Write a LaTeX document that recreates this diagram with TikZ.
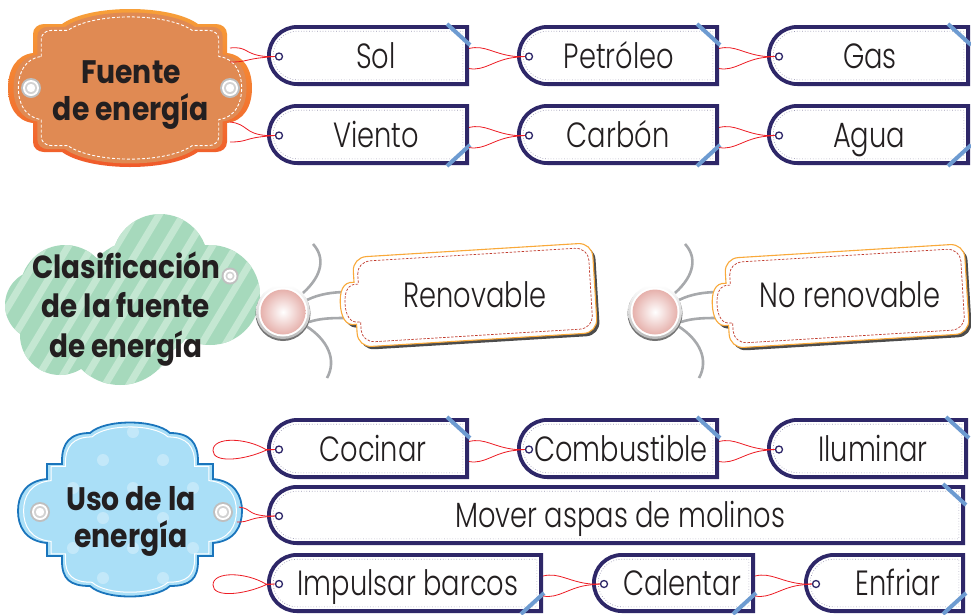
\documentclass[tikz,border=0pt]{standalone}
\usepackage{fontspec}
\newfontfamily\lblfont{Poppins Light}[FakeStretch=0.78]
\newfontfamily\bldfont{Poppins Bold}[FakeStretch=0.87]
\usetikzlibrary{shapes.misc,calc}
\definecolor{navy}{HTML}{2E2768}
\definecolor{stripeblue}{HTML}{6D9BD1}
\definecolor{strred}{HTML}{ED1C24}
\definecolor{innergray}{HTML}{9D9BB5}
\definecolor{txt}{HTML}{231F20}
\definecolor{orR}{HTML}{F0582A}
\definecolor{orY}{HTML}{F7A23A}
\definecolor{orFill}{HTML}{E08A53}
\definecolor{cloudgreen}{HTML}{A6D9BC}
\definecolor{cloudstripe}{HTML}{C4E7D2}
\definecolor{usofill}{HTML}{AADFF7}
\definecolor{usoline}{HTML}{1A75BC}
\definecolor{graystr}{HTML}{A7A9AC}
\definecolor{pinkc}{HTML}{E6B1AC}
\definecolor{tagorange}{HTML}{F9A93A}
\definecolor{tagred}{HTML}{C0392B}
\newcommand\fuentepath{(-97,-35) -- (-97,-54) .. controls (-97,-60) and (-92,-64) .. (-86,-64) -- (-68,-64) .. controls (-40,-84) and (40,-84) .. (68,-64) -- (86,-64) .. controls (92,-64) and (97,-60) .. (97,-54) -- (97,-35) .. controls (114,-33) and (122,-18) .. (122,0) .. controls (122,18) and (114,33) .. (97,35) -- (97,54) .. controls (97,60) and (92,64) .. (86,64) -- (68,64) .. controls (40,84) and (-40,84) .. (-68,64) -- (-86,64) .. controls (-92,64) and (-97,60) .. (-97,54) -- (-97,35) .. controls (-114,33) and (-122,18) .. (-122,0) .. controls (-122,-18) and (-114,-33) .. (-97,-35) -- cycle}
\newcommand\usopath{(-40,-78) .. controls (-25,-92) and (25,-92) .. (40,-78) .. controls (60,-78) and (68,-68) .. (68,-50) -- (68,-47) -- (83,-47) -- (83,-32) .. controls (105,-30) and (112,-15) .. (112,0) .. controls (112,15) and (105,30) .. (83,32) -- (83,45) -- (68,45) -- (68,50) .. controls (68,68) and (60,75) .. (40,75) .. controls (25,89) and (-25,89) .. (-40,75) .. controls (-60,75) and (-68,68) .. (-68,50) -- (-68,45) -- (-83,45) -- (-83,32) .. controls (-105,30) and (-112,15) .. (-112,0) .. controls (-112,-15) and (-105,-30) .. (-83,-32) -- (-83,-47) -- (-68,-47) -- (-68,-50) .. controls (-68,-68) and (-60,-78) .. (-40,-78) -- cycle}
\newcommand\midpath{(-120,-31) .. controls (-120,-39) and (-114,-45) .. (-106,-45) -- (106,-45) .. controls (114,-45) and (120,-39) .. (120,-31) -- (120,31) .. controls (120,39) and (114,45) .. (106,45) -- (-106,45) .. controls (-114,45) and (-120,39) .. (-120,31) -- (-120,22) .. controls (-132,24) and (-135,12) .. (-135,1) .. controls (-135,-10) and (-132,-22) .. (-120,-20) -- cycle}
\newcommand\tagbox[8]{%
  \pgfmathsetmacro\tgW{#3-#2-3.8}%
  \pgfmathsetmacro\tgH{#5-#4-3.8}%
  \pgfmathsetmacro\tgX{(#2+#3)/2}%
  \pgfmathsetmacro\tgY{(#4+#5)/2}%
  \pgfmathsetmacro\tgIW{\tgW-8.5}%
  \pgfmathsetmacro\tgIH{\tgH-8.5}%
  \pgfmathsetmacro\tgS{\tgY-(#6)*((#5-#4)/2+1)}%
  \pgfmathsetmacro\tgSE{\tgS+(#6)*21}%
  \pgfmathsetmacro\tgRa{#3-22}%
  \pgfmathsetmacro\tgRb{#3+1}%
  \pgfmathsetmacro\tgHx{#2+12}%
  \pgfmathsetmacro\tgHy{\tgY+1}%
  \pgfmathsetmacro\tgTy{\tgY+12.5}%
  \node[tagout, minimum width=\tgW, minimum height=\tgH] (#1) at (\tgX,\tgY) {};
  \node[tagin, minimum width=\tgIW, minimum height=\tgIH] (#1-in) at (\tgX,\tgY) {};
  \draw[stripe] (\tgRa,\tgS) -- (\tgRb,\tgSE);
  \node[hole] (#1-h) at (\tgHx,\tgHy) {};
  \node[lbl] (#1-t) at (#7,\tgTy) {#8};
}
\newcommand\rstr[2]{%
  \draw[redstr] ($(#1.east)+(0,-7)$) .. controls +(16,-4) and +(-22,-2) .. ($(#2.west)+(-9,0)$) -- (#2.west);
  \draw[redstr] ($(#1.east)+(0,13)$) .. controls +(16,3) and +(-22,2) .. ($(#2.west)+(-9,0.8)$) -- (#2.west);
}
\newcommand\grommet[3]{%
  \fill[gray!50] (#1,#2) circle[radius=#3];
  \fill[white] (#1,#2) circle[radius=#3-2];
  \fill[gray!35] (#1,#2) circle[radius=#3-4];
  \fill[white] (#1,#2) circle[radius=#3-5.8];
}
\newcommand\ballstrings[1]{%
  \draw[graystring] ($(#1)+(20,-19)$) .. controls +(20,-18) and +(12,13) .. ($(#1)+(30,-68)$);
  \draw[graystring] ($(#1)+(24,-12)$) .. controls +(12,-6) and +(-14,0) .. ($(#1)+(64,-20)$);
  \draw[graystring] ($(#1)+(26,10)$) .. controls +(12,-4) and +(-14,0) .. ($(#1)+(64,6)$);
  \draw[graystring] ($(#1)+(23,14)$) .. controls +(22,14) and +(10,-18) .. ($(#1)+(44,66)$);
}
\newcommand\ballshape[1]{%
  \fill[black!55] ($(#1)+(0,1.5)$) circle[radius=27.5];
  \shade[top color=white, bottom color=gray!55] (#1) circle[radius=27];
  \fill[white] (#1) circle[radius=24.5];
  \shade[inner color=white, outer color=pinkc] (#1) circle[radius=22.5];
}
\newcommand\midtag[2]{%
  \begin{scope}[shift={(#1,#2)}, rotate=3.5]
    \begin{scope}[shift={(2.5,3)}]
      \fill[black!70] \midpath;
    \end{scope}
    \fill[white] \midpath;
    \draw[tagorange, line width=1.1pt] \midpath;
    \begin{scope}[xscale=0.965, yscale=0.9]
      \draw[tagred, line width=0.7pt, dash pattern=on 2.5pt off 1.5pt] \midpath;
    \end{scope}
  \end{scope}
}
\begin{document}
\begin{tikzpicture}[x=1pt,y=-1pt,
  tagout/.style={rounded rectangle, rounded rectangle right arc=none, draw=navy, line width=3.8pt, fill=white, inner sep=0pt},
  tagin/.style={rounded rectangle, rounded rectangle right arc=none, draw=innergray, line width=0.7pt, dotted, inner sep=0pt},
  hole/.style={circle, draw=navy, line width=1.3pt, fill=white, minimum size=7pt, inner sep=0pt},
  stripe/.style={draw=stripeblue, line width=4pt},
  redstr/.style={draw=strred, line width=0.8pt},
  graystring/.style={draw=graystr, line width=2.6pt},
  lbl/.style={anchor=base, inner sep=0pt, text=txt, font=\lblfont\fontsize{35}{40}\selectfont},
  bigtxt/.style={align=center, inner sep=0pt, text=txt}]
\useasboundingbox (0,0) rectangle (971,614);
\fill[white] (0,0) rectangle (971,614);

% ---------- Fuente de energia badge ----------
\coordinate (fuente-c) at (130,88);
\begin{scope}[shift={(130,88)}]
  \shade[top color=orY, bottom color=orR] \fuentepath;
  \begin{scope}[scale=0.955]
    \fill[orFill] \fuentepath;
  \end{scope}
  \begin{scope}[xscale=0.915, yscale=0.9]
    \draw[white, line width=0.9pt, dash pattern=on 3pt off 2pt] \fuentepath;
  \end{scope}
\end{scope}
\grommet{31}{88}{10}
\grommet{230}{88}{10}
\node[bigtxt, font=\bldfont\fontsize{32.5}{37}\selectfont] (fuente) at (131,95) {Fuente\\de energía};

% ---------- Clasificacion cloud ----------
\begin{scope}
  \clip (160,262) circle[radius=48] (65,290) circle[radius=45] (40,305) circle[radius=35] (210,295) circle[radius=50] (120,330) circle[radius=55] (60,335) circle[radius=40] (140,300) circle[radius=60];
  \fill[cloudgreen] (0,200) rectangle (270,390);
  \foreach \i in {-12,...,14} \draw[cloudstripe, line width=7pt] (\i*24,400) -- ++(120,-200);
\end{scope}
\grommet{230}{276}{8.5}
\node[bigtxt, font=\bldfont\fontsize{32}{39.5}\selectfont] (clasif) at (126,309) {Clasificación\\de la fuente\\de energía};

% ---------- Uso de la energia badge ----------
\coordinate (uso-c) at (130,511);
\begin{scope}[shift={(130,511)}]
  \fill[usofill] \usopath;
  \begin{scope}
    \clip \usopath;
    \foreach \p in {(3,-79),(-27,-51),(33,-51),(3,-23),(63,-23),(-57,-23),(-27,7),(33,7),(3,37),(-57,37),(63,37),(-27,67),(33,67)}
      \fill[white, opacity=0.3] \p circle[radius=6];
  \end{scope}
  \draw[usoline, line width=1.8pt] \usopath;
  \begin{scope}[xscale=0.95, yscale=0.95]
    \draw[white, line width=1pt] \usopath;
  \end{scope}
\end{scope}
\grommet{40}{512}{10}
\grommet{223}{512}{10}
\node[bigtxt, font=\bldfont\fontsize{32.5}{37}\selectfont] (uso) at (131,521) {Uso de la\\energía};

% ---------- Tags ----------
\tagbox{sol}{267}{469}{25}{86}{1}{376}{Sol}
\tagbox{pet}{517}{719}{25}{86}{1}{619}{Petróleo}
\tagbox{gas}{767}{970}{25}{86}{1}{870}{Gas}
\tagbox{vie}{267}{469}{104}{165}{-1}{376}{Viento}
\tagbox{car}{517}{719}{104}{165}{-1}{618}{Carbón}
\tagbox{agu}{767}{970}{104}{165}{-1}{869}{Agua}
\tagbox{coc}{267}{469}{418}{479}{1}{373}{Cocinar}
\tagbox{com}{517}{719}{418}{479}{1}{621}{Combustible}
\tagbox{ilu}{767}{968}{418}{479}{1}{873}{Iluminar}
\tagbox{mov}{267}{965}{485}{545}{1}{620}{Mover aspas de molinos}
\tagbox{imp}{267}{543}{553}{613}{-1}{408}{Impulsar barcos}
\tagbox{cal}{592}{755}{553}{613}{-1}{682}{Calentar}
\tagbox{enf}{804}{965}{553}{613}{-1}{898}{Enfriar}

% ---------- Red strings ----------
\rstr{sol}{pet-h}
\rstr{pet}{gas-h}
\rstr{vie}{car-h}
\rstr{car}{agu-h}
\rstr{coc}{com-h}
\rstr{com}{ilu-h}
\rstr{imp}{cal-h}
\rstr{cal}{enf-h}
\draw[redstr] ($(fuente-c)+(100,-40)$) .. controls +(18,-2) and +(-22,-2) .. ($(sol-h.west)+(-9,0)$) -- (sol-h.west);
\draw[redstr] ($(fuente-c)+(100,-26)$) .. controls +(18,0) and +(-22,2) .. ($(sol-h.west)+(-9,0.8)$) -- (sol-h.west);
\draw[redstr] ($(fuente-c)+(100,34)$) .. controls +(18,2) and +(-22,-2) .. ($(vie-h.west)+(-9,0)$) -- (vie-h.west);
\draw[redstr] ($(fuente-c)+(100,54)$) .. controls +(18,0) and +(-22,2) .. ($(vie-h.west)+(-9,0.8)$) -- (vie-h.west);
\draw[redstr] ($(uso-c)+(109,-4)$) .. controls +(14,2) and +(-20,-2) .. ($(mov-h.west)+(-9,0)$) -- (mov-h.west);
\draw[redstr] ($(uso-c)+(107,11)$) .. controls +(14,0) and +(-20,2) .. ($(mov-h.west)+(-9,0.8)$) -- (mov-h.west);
\draw[redstr] (coc-h.west) -- ++(-9,0) .. controls +(-20,-12) and +(0,-14) .. ($(coc-h)+(-66,1)$) .. controls +(0,13) and +(-22,10) .. ($(coc-h.west)+(-9,0.8)$) -- (coc-h.west);
\draw[redstr] (imp-h.west) -- ++(-9,0) .. controls +(-20,-12) and +(0,-14) .. ($(imp-h)+(-66,1)$) .. controls +(0,13) and +(-22,10) .. ($(imp-h.west)+(-9,0.8)$) -- (imp-h.west);

% ---------- Middle row: balls and tags ----------
\node[circle, minimum size=54pt, inner sep=0pt] (ball1) at (283,312) {};
\node[circle, minimum size=54pt, inner sep=0pt] (ball2) at (655,312) {};
\ballstrings{ball1}
\ballstrings{ball2}
\midtag{475}{295}
\midtag{847}{296}
\ballshape{ball1}
\ballshape{ball2}
\node[lbl] (renov) at (475,307) {Renovable};
\node[lbl] (norenov) at (850,307) {No renovable};
\end{tikzpicture}
\end{document}
